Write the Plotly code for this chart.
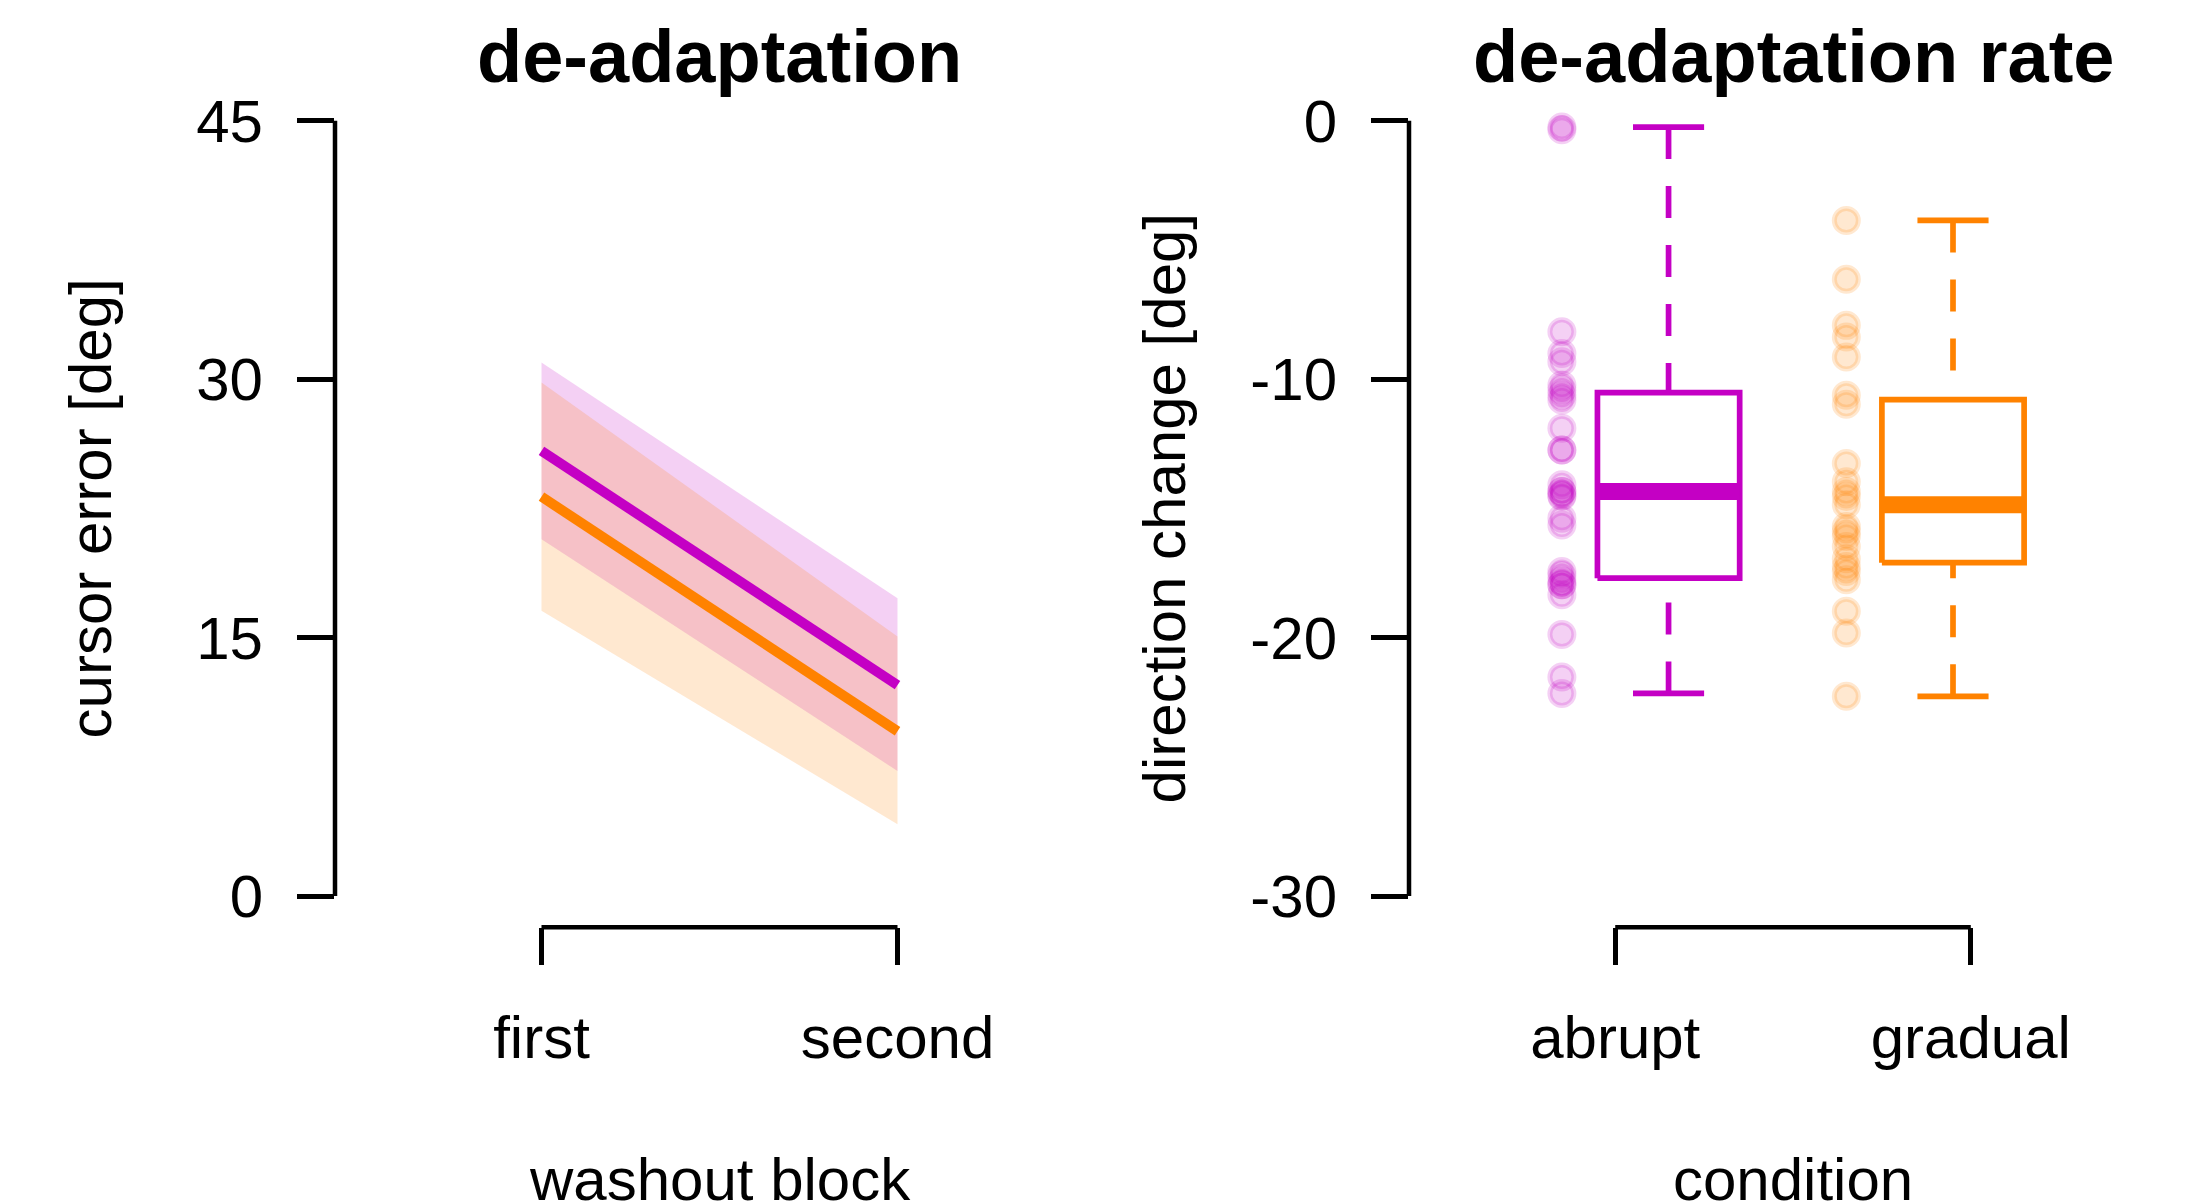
import numpy as np
import plotly.graph_objects as go

# ---------------- data ----------------
blocks = ["first", "second"]
block_x = [1, 2]

abrupt_mean = [25.84, 12.24]
abrupt_upper = [30.96, 17.29]
abrupt_lower = [20.71, 7.26]

gradual_mean = [23.18, 9.57]
gradual_upper = [29.80, 15.07]
gradual_lower = [16.56, 4.17]

conditions = ["abrupt", "gradual"]
cond_tick_x = [1, 2]

abrupt_rate = [-0.25, -0.35, -8.17, -9.01, -9.33, -10.23, -10.42, -10.62, -10.81,
               -11.90, -12.74, -12.74, -14.09, -14.35, -14.35, -14.50, -14.54,
               -15.38, -15.64, -17.44, -17.60, -17.80, -17.95, -17.95, -18.34,
               -19.88, -21.52, -22.16]
gradual_rate = [-3.86, -6.14, -7.92, -8.37, -9.14, -10.62, -10.97, -13.26, -13.97,
                -14.35, -14.54, -14.86, -15.70, -15.89, -16.09, -16.47, -16.95,
                -17.25, -17.44, -17.76, -18.98, -19.82, -22.27]

left_yticks = [0, 15, 30, 45]
right_yticks = [-30, -20, -10, 0]
right_yticklabels = ["-30", "-20", "-10", "0"]

# ---------------- style ----------------
PURPLE = "#c400c4"
ORANGE = "#ff8200"
PURPLE_T = "rgba(196,0,196,0.184)"
ORANGE_T = "rgba(255,130,0,0.184)"
FONT = "Liberation Sans, Arial, sans-serif"
W, H = 2187, 1203
FS = 60

# layout geometry (pixels)
L_X0, L_X1 = 335, 1104
R_X0, R_X1 = 1409, 2177
Y_TOP, Y_BOT = 88, 929
cond_base = [1.0, 1.8]     # drawing base for each condition group
PT_OFF, BOX_OFF, BOX_HW, STAPLE_HW = -0.15, 0.15, 0.2, 0.1
BOX_LW = 5.7


def fivenum(x):
    xs = np.sort(np.asarray(x, dtype=float))
    n = len(xs)
    n4 = np.floor((n + 3) / 2) / 2
    d = np.array([1, n4, (n + 1) / 2, n + 1 - n4, n]) - 1
    return 0.5 * (xs[np.floor(d).astype(int)] + xs[np.ceil(d).astype(int)])


fig = go.Figure()

# ---------- left panel: bands ----------
for up, lo, col in [(abrupt_upper, abrupt_lower, PURPLE_T),
                    (gradual_upper, gradual_lower, ORANGE_T)]:
    fig.add_trace(go.Scatter(
        x=block_x + block_x[::-1], y=up + lo[::-1], fill="toself",
        fillcolor=col, line=dict(width=0), mode="lines",
        hoverinfo="skip", showlegend=False, xaxis="x", yaxis="y"))

for m, col in [(abrupt_mean, PURPLE), (gradual_mean, ORANGE)]:
    fig.add_trace(go.Scatter(
        x=block_x, y=m, mode="lines", line=dict(color=col, width=10),
        showlegend=False, xaxis="x", yaxis="y"))

# ---------- right panel: points + boxes ----------
for vals, base, col, tcol in [(abrupt_rate, cond_base[0], PURPLE, PURPLE_T),
                              (gradual_rate, cond_base[1], ORANGE, ORANGE_T)]:
    fig.add_trace(go.Scatter(
        x=[base + PT_OFF] * len(vals), y=vals, mode="markers",
        marker=dict(size=24, color=tcol, line=dict(color=tcol, width=5)),
        showlegend=False, xaxis="x2", yaxis="y2"))

    lo_h, q1, med, q3, hi_h = fivenum(vals)
    iqr = q3 - q1
    arr = np.asarray(vals)
    up_w = arr[arr <= q3 + 1.5 * iqr].max()
    lo_w = arr[arr >= q1 - 1.5 * iqr].min()
    c = base + BOX_OFF

    # whiskers (dashed), drawn from whisker end towards the box
    for a, b in [(up_w, q3), (lo_w, q1)]:
        fig.add_trace(go.Scatter(
            x=[c, c], y=[a, b], mode="lines",
            line=dict(color=col, width=BOX_LW, dash="32px,27px"),
            showlegend=False, xaxis="x2", yaxis="y2"))
        fig.add_trace(go.Scatter(
            x=[c - STAPLE_HW, c + STAPLE_HW], y=[a, a], mode="lines",
            line=dict(color=col, width=BOX_LW),
            showlegend=False, xaxis="x2", yaxis="y2"))
    # box
    fig.add_trace(go.Scatter(
        x=[c - BOX_HW, c + BOX_HW, c + BOX_HW, c - BOX_HW, c - BOX_HW],
        y=[q1, q1, q3, q3, q1], mode="lines", fill="toself", fillcolor="white",
        line=dict(color=col, width=BOX_LW),
        showlegend=False, xaxis="x2", yaxis="y2"))
    # median
    fig.add_trace(go.Scatter(
        x=[c - BOX_HW, c + BOX_HW], y=[med, med], mode="lines",
        line=dict(color=col, width=17),
        showlegend=False, xaxis="x2", yaxis="y2"))

# ---------- axes ----------
ydom = [1 - Y_BOT / H, 1 - Y_TOP / H]
tickfont = dict(family=FONT, size=FS, color="black")
common = dict(showgrid=False, zeroline=False, showline=False, ticks="outside",
              ticklen=37, tickwidth=4.5, tickcolor="black", tickfont=tickfont)

fig.update_layout(
    width=W, height=H, margin=dict(l=0, r=0, t=0, b=0),
    paper_bgcolor="white", plot_bgcolor="white", showlegend=False,
    xaxis=dict(domain=[L_X0 / W, L_X1 / W], range=[0.42, 2.58],
               tickvals=block_x, ticktext=blocks, ticklabelstandoff=21, **common),
    yaxis=dict(domain=ydom, range=[-1.8, 46.8], tickvals=left_yticks,
               ticktext=[str(v) for v in left_yticks], ticklabelstandoff=22, **common),
    xaxis2=dict(domain=[R_X0 / W, R_X1 / W], range=[0.42, 2.58], anchor="y2",
                tickvals=cond_tick_x, ticktext=conditions, ticklabelstandoff=21, **common),
    yaxis2=dict(domain=ydom, range=[-31.2, 1.2], anchor="x2", tickvals=right_yticks,
                ticktext=right_yticklabels, ticklabelstandoff=22, **common),
)

# R-style axis lines spanning only first..last tick
axis_line = dict(color="black", width=4.5)
fig.add_shape(type="line", xref="x", yref="y domain", x0=min(block_x), x1=max(block_x),
              y0=0, y1=0, line=axis_line)
fig.add_shape(type="line", xref="x domain", yref="y", x0=0, x1=0,
              y0=min(left_yticks), y1=max(left_yticks), line=axis_line)
fig.add_shape(type="line", xref="x2", yref="y2 domain", x0=min(cond_tick_x),
              x1=max(cond_tick_x), y0=0, y1=0, line=axis_line)
fig.add_shape(type="line", xref="x2 domain", yref="y2", x0=0, x1=0,
              y0=min(right_yticks), y1=max(right_yticks), line=axis_line)

# ---------- titles ----------
def ann(text, x, y, size=FS, bold=False, angle=0):
    fig.add_annotation(text=f"<b>{text}</b>" if bold else text,
                       x=x / W, y=1 - y / H, xref="paper", yref="paper",
                       xanchor="center", yanchor="middle", showarrow=False,
                       textangle=angle, font=dict(family=FONT, size=size, color="black"))

ann("de-adaptation", (L_X0 + L_X1) / 2, 80 - 0.3465 * 74, size=74, bold=True)
ann("de-adaptation rate", (R_X0 + R_X1) / 2, 80 - 0.3465 * 74, size=74, bold=True)
ann("washout block", (L_X0 + L_X1) / 2, 1203 - 0.3465 * FS)
ann("condition", (R_X0 + R_X1) / 2, 1203 - 0.3465 * FS)
ann("cursor error [deg]", 90, (Y_TOP + Y_BOT) / 2, angle=-90)
ann("direction change [deg]", 1164, (Y_TOP + Y_BOT) / 2, angle=-90)

fig.write_html("out.html", config={"displayModeBar": False},
               post_script="document.body.style.margin='0px';"
                           "document.body.style.overflow='hidden';")
